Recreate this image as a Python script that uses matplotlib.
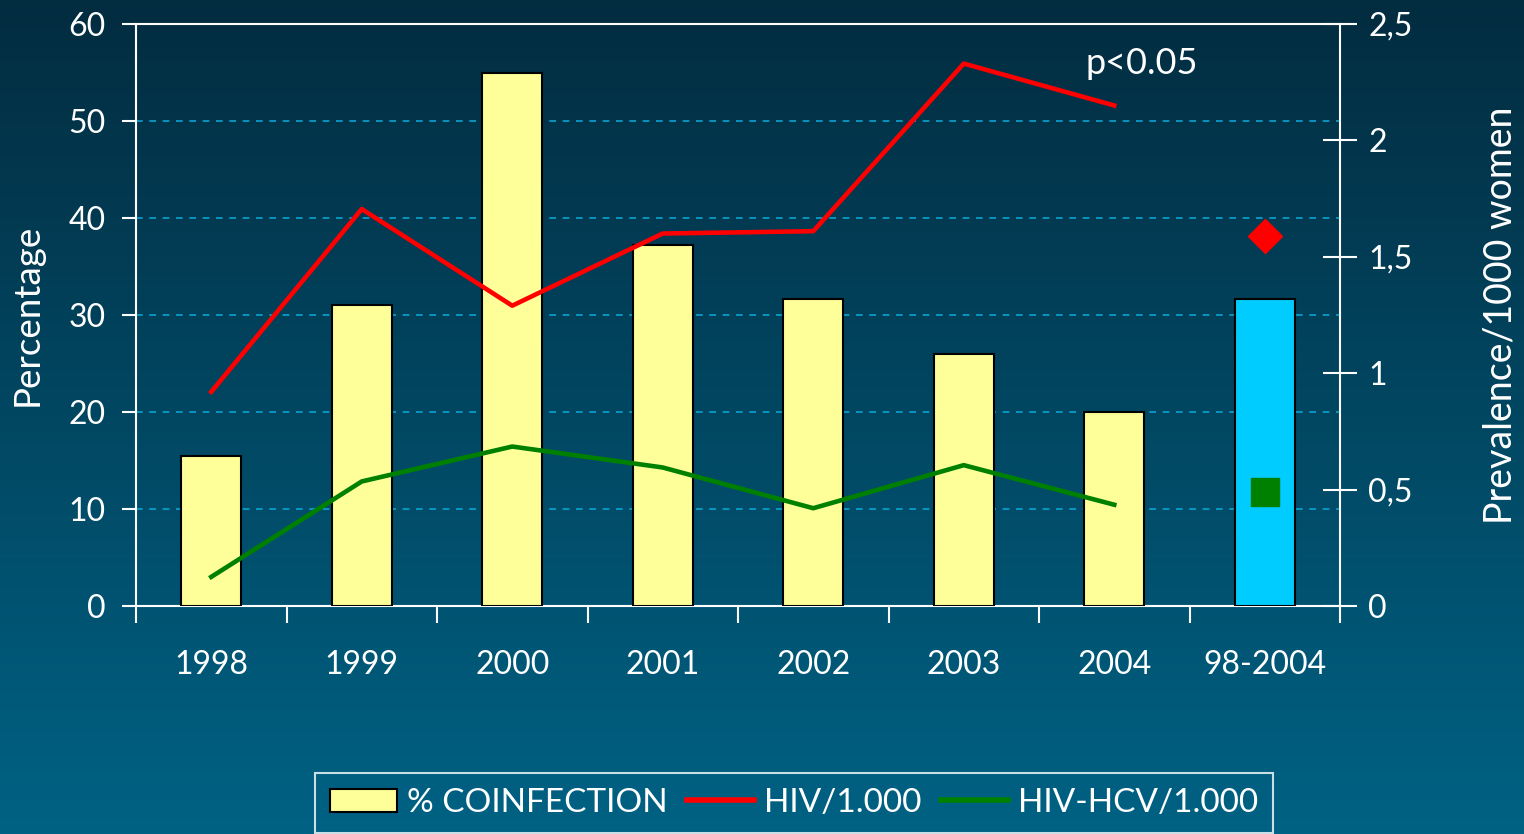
import numpy as np
import matplotlib
matplotlib.use('Agg')
import matplotlib.pyplot as plt
from matplotlib.patches import Patch
from matplotlib.lines import Line2D

# data
categories = ['1998', '1999', '2000', '2001', '2002', '2003', '2004', '98-2004']
coinfection = [15.5, 31.0, 55.0, 37.2, 31.6, 26.0, 20.0, 31.6]
hiv = [0.92, 1.705, 1.29, 1.60, 1.61, 2.33, 2.15]
hiv_hcv = [0.125, 0.535, 0.685, 0.595, 0.42, 0.605, 0.435]
hiv_total = 1.59
hiv_hcv_total = 0.49
right_ticks = [0, 0.5, 1, 1.5, 2, 2.5]
right_labels = ['0', '0,5', '1', '1,5', '2', '2,5']

plt.rcParams['font.family'] = ['Lato', 'DejaVu Sans']
plt.rcParams['text.color'] = 'white'

fig = plt.figure(figsize=(15.24, 8.34), dpi=100)

# gradient background
bg = fig.add_axes([0, 0, 1, 1], zorder=-10)
top = np.array([3, 44, 64]) / 255
bot = np.array([0, 98, 132]) / 255
t = np.linspace(0, 1, 256)[:, None]
grad = top[None, :] * (1 - t) + bot[None, :] * t
bg.imshow(grad[:, None, :].repeat(2, axis=1), aspect='auto', extent=[0, 1, 0, 1])
bg.axis('off')

ax = fig.add_axes([136 / 1524, 1 - 606 / 834, (1340 - 136) / 1524, (606 - 24) / 834])
ax.set_facecolor('none')
x = np.arange(len(categories))
colors = ['#ffff99'] * 7 + ['#00ccff']
ax.bar(x, coinfection, width=0.4, color=colors, edgecolor='black', linewidth=1.5, zorder=3)

ax.set_xlim(-0.5, len(categories) - 0.5)
ax.set_ylim(0, 60)
ax.set_yticks(range(0, 70, 10))
for v in range(10, 60, 10):
    ax.axhline(v, color='#0aa3d2', linestyle=(0, (4, 4)), linewidth=1.2, zorder=1)

ax.set_xticks(x)
ax.set_xticklabels(categories)
ax.set_xticks(np.arange(-0.5, len(categories), 1), minor=True)
ax.tick_params(axis='x', which='major', length=0, pad=32, labelsize=23, colors='white')
ax.tick_params(axis='x', which='minor', length=12, width=1.5, direction='out', color='white')
ax.tick_params(axis='y', length=10, width=1.5, direction='out', color='white', labelcolor='white',
               labelsize=23, pad=12)
for s in ['left', 'bottom', 'top']:
    ax.spines[s].set_color('white')
    ax.spines[s].set_linewidth(1.5)
ax.spines['right'].set_visible(False)
ax.set_ylabel('Percentage', fontsize=26.5, color='white', labelpad=18)

ax2 = ax.twinx()
ax2.set_ylim(0, 2.5)
ax2.plot(x[:7], hiv, color='#ff0000', linewidth=3.3, zorder=4)
ax2.plot(x[:7], hiv_hcv, color='#008000', linewidth=3.3, zorder=4)
ax2.plot([x[7]], [hiv_total], marker='D', color='#ff0000', markersize=17, linestyle='none', zorder=5)
ax2.plot([x[7]], [hiv_hcv_total], marker='s', color='#008000', markersize=20, linestyle='none', zorder=5)
ax2.set_yticks(right_ticks)
ax2.set_yticklabels(right_labels)
ax2.tick_params(axis='y', length=25, width=1.5, direction='inout', color='white', labelcolor='white',
                labelsize=23, pad=8)
for s in ['left', 'bottom', 'top']:
    ax2.spines[s].set_visible(False)
ax2.spines['right'].set_color('white')
ax2.spines['right'].set_linewidth(1.5)
ax2.set_ylabel('Prevalence/1000 women', fontsize=27, color='white', labelpad=50)

ax2.text(6.18, 2.33, 'p<0.05', fontsize=26, color='white', ha='center', va='center')

handles = [
    Patch(facecolor='#ffff99', edgecolor='black', linewidth=1.5, label='% COINFECTION'),
    Line2D([0], [0], color='#ff0000', linewidth=4, label='HIV/1.000'),
    Line2D([0], [0], color='#008000', linewidth=4, label='HIV-HCV/1.000'),
]
leg = fig.legend(handles=handles, loc='center', bbox_to_anchor=(794 / 1524, 1 - 803 / 834), ncol=3,
                 fontsize=24, frameon=True, fancybox=False, handlelength=2.0, handletextpad=0.3,
                 columnspacing=0.6, borderpad=0.45, labelcolor='white')
leg.get_frame().set_facecolor('none')
leg.get_frame().set_edgecolor('white')
leg.get_frame().set_linewidth(1.5)

fig.savefig('out.png', dpi=100)
